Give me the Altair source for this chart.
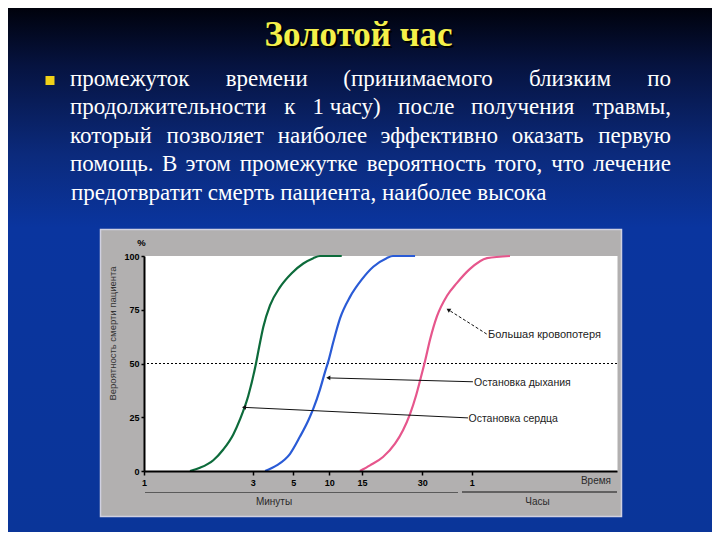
import altair as alt
import pandas as pd

# ---------------- data ----------------
series_names = ["Остановка сердца", "Остановка дыхания", "Большая кровопотеря"]
series_colors = ["#0d6b3b", "#2a5bd6", "#e6568c"]

cardiac_min = [1.846, 2.03, 2.275, 2.459, 2.643, 2.766, 2.919, 3.162, 3.325, 3.522, 3.852, 4.345, 4.921, 6.39, 7.78, 8.71, 11.9]
cardiac_pct = [0, 1.5, 5, 10, 17, 24, 35, 50, 58, 67, 77, 85.5, 92, 96.5, 99, 100, 100]

resp_min = [3.61, 4.18, 4.84, 5.93, 7.08, 7.78, 8.71, 9.40, 9.86, 10.61, 11.64, 13.17, 14.95, 17.81, 21.14, 22.7, 28.2]
resp_pct = [0, 2.6, 8, 16, 23.5, 29, 38, 46, 51, 60, 71, 81, 89, 95, 99, 100, 100]

blood_min = [14.69, 16.99, 20.22, 23.21, 25.2, 26.94, 28.43, 29.43, 31.64, 34.68, 38.93, 45.0, 51.07, 58.97, 66.32, 75.8]
blood_pct = [0, 2.6, 6.5, 12.7, 19, 26.5, 35, 42, 51, 61, 72, 81.5, 87.5, 94, 99, 100]

x_tick_values = [1, 3, 5, 10, 15, 30, 60]
y_tick_values = [0, 25, 50, 75, 100]
x_scale_domain = [1, 3, 5, 10, 15, 30, 60, 120]

# arrows: (to curve point) <- (from label)
arrow_from_min = [57.75, 60.5, 66.2]
arrow_from_pct = [24.7, 41.5, 63.7]
arrow_to_min = [2.84, 9.86, 45.8]
arrow_to_pct = [29.6, 43.3, 75.0]

title_text = "Золотой час"
justified_lines = [
    ["промежуток", "времени", "(принимаемого", "близким", "по"],
    ["продолжительности", "к", "1 часу)", "после", "получения", "травмы,"],
    ["который", "позволяет", "наиболее", "эффективно", "оказать", "первую"],
    ["помощь.", "В", "этом", "промежутке", "вероятность", "того,", "что", "лечение"],
]
last_line = "предотвратит смерть пациента, наиболее высока"
y_title = "Вероятность смерти пациента"

# ---------------- layout (page pixels) ----------------
TOTAL_W, TOTAL_H = 704, 524
OX, OY = 144, 256          # plot-area origin on the page
PW, PH = 473, 215          # plot-area size
x_scale_range = [0, 108.7, 149.3, 185.3, 218, 278.3, 327.7, 473]

TEXT_L, TEXT_R = 70, 671
BODY_FS = 23
line_baselines = [86, 114, 142.5, 171, 199.5]
arrow_angles = [2.8, 1.5, 32]

# approximate advance widths (em) of the serif face, used only to justify lines
char_w = {
    "а": .444, "б": .509, "в": .472, "г": .410, "д": .509, "е": .444, "ж": .691, "з": .395,
    "и": .535, "й": .535, "к": .486, "л": .503, "м": .624, "н": .535, "о": .5, "п": .535,
    "р": .5, "с": .444, "т": .437, "у": .5, "ф": .648, "х": .5, "ц": .535, "ч": .503,
    "ш": .770, "щ": .770, "ъ": .535, "ы": .687, "ь": .468, "э": .444, "ю": .747, "я": .486,
    "В": .667, " ": .25, ".": .25, ",": .25, "(": .333, ")": .333, "1": .5,
}


def est_width(word):
    return sum(char_w.get(c, 0.5) for c in word) * BODY_FS


def vx(x):
    return x - OX


def vy(y):
    return y - OY


one = pd.DataFrame({"k": [0]})
xs = alt.Scale(domain=x_scale_domain, range=x_scale_range, nice=False, zero=False)
ys = alt.Scale(domain=[0, 100], nice=False)

SANS = "Liberation Sans"
SERIF = "Liberation Serif"

# background gradient
bg = alt.Chart(one).mark_rect(
    fill=alt.LinearGradient(
        gradient="linear",
        stops=[
            alt.GradientStop(color="#00020c", offset=0),
            alt.GradientStop(color="#061340", offset=0.11),
            alt.GradientStop(color="#0b2a7c", offset=0.28),
            alt.GradientStop(color="#0a359f", offset=0.42),
            alt.GradientStop(color="#0a3599", offset=1),
        ],
        x1=0, x2=0, y1=0, y2=1,
    ),
    strokeWidth=0,
).encode(x=alt.value(vx(8)), x2=alt.value(vx(712)), y=alt.value(vy(8)), y2=alt.value(vy(532)))

panel = alt.Chart(one).mark_rect(fill="#b2b0b0", stroke="#d0d0e0", strokeWidth=1.5).encode(
    x=alt.value(vx(100.5)), x2=alt.value(vx(621.5)), y=alt.value(vy(229.5)), y2=alt.value(vy(516.5))
)
white = alt.Chart(one).mark_rect(fill="white", strokeWidth=0).encode(
    x=alt.value(vx(145)), x2=alt.value(vx(617.5)), y=alt.value(vy(256)), y2=alt.value(vy(471))
)
min_line = alt.Chart(one).mark_rule(color="#5a5a5a", strokeWidth=1).encode(
    x=alt.value(vx(145)), x2=alt.value(vx(458)), y=alt.value(vy(492.5))
)
hour_line = alt.Chart(one).mark_rule(color="#111111", strokeWidth=1.2).encode(
    x=alt.value(vx(462)), x2=alt.value(vx(617)), y=alt.value(vy(492)))

bullet = alt.Chart(one).mark_rect(fill="#f0d018").encode(
    x=alt.value(vx(45.5)), x2=alt.value(vx(54.5)), y=alt.value(vy(76)), y2=alt.value(vy(85))
)

# curves
frames = []
for name, mins, pcts in zip(series_names, [cardiac_min, resp_min, blood_min], [cardiac_pct, resp_pct, blood_pct]):
    frames.append(pd.DataFrame({"series": name, "minutes": mins, "pct": pcts}))
curve_df = pd.concat(frames, ignore_index=True)

axis_common = dict(
    domainColor="black", domainWidth=2, tickColor="black", tickWidth=1.5,
    labelFont=SANS, labelFontWeight="bold", labelFontSize=9, labelColor="black",
    grid=False, title=None, labelOverlap=False, zindex=2,
)
curves = alt.Chart(curve_df).mark_line(strokeWidth=2.2, interpolate="monotone").encode(
    x=alt.X("minutes:Q", scale=xs, axis=alt.Axis(
        values=x_tick_values, format="d", labelExpr="datum.value >= 60 ? '1' : datum.label",
        tickSize=4, labelPadding=3, labelFlush=False, **axis_common)),
    y=alt.Y("pct:Q", scale=ys, axis=alt.Axis(values=y_tick_values, tickSize=3, labelPadding=2, **axis_common)),
    color=alt.Color("series:N", scale=alt.Scale(domain=series_names, range=series_colors), legend=None),
)

half = alt.Chart(pd.DataFrame({"pct": [50]})).mark_rule(color="black", strokeDash=[2, 2], strokeWidth=1).encode(
    y=alt.Y("pct:Q", scale=ys, axis=None)
)

arrow_df = pd.DataFrame({
    "fx": arrow_from_min, "fy": arrow_from_pct, "tx": arrow_to_min, "ty": arrow_to_pct,
    "ang": arrow_angles, "dashed": [0, 0, 1],
})
arrows_solid = alt.Chart(arrow_df).transform_filter("datum.dashed == 0").mark_rule(color="#111", strokeWidth=1).encode(
    x=alt.X("fx:Q", scale=xs, axis=None), y=alt.Y("fy:Q", scale=ys, axis=None), x2="tx:Q", y2="ty:Q")
arrows_dash = alt.Chart(arrow_df).transform_filter("datum.dashed == 1").mark_rule(
    color="#111", strokeWidth=1, strokeDash=[3, 2]).encode(
    x=alt.X("fx:Q", scale=xs, axis=None), y=alt.Y("fy:Q", scale=ys, axis=None), x2="tx:Q", y2="ty:Q")
heads = alt.Chart(arrow_df).mark_point(shape="triangle-left", filled=True, color="#111", size=22, opacity=1).encode(
    x=alt.X("tx:Q", scale=xs, axis=None), y=alt.Y("ty:Q", scale=ys, axis=None),
    angle=alt.Angle("ang:Q", scale=None))


def px_text(rows, **kw):
    df = pd.DataFrame(rows, columns=["px", "py", "t", "fs"])
    df["px"] = df["px"] - OX
    df["py"] = df["py"] - OY
    return alt.Chart(df).mark_text(**kw).encode(
        x=alt.X("px:Q", scale=None, axis=None),
        y=alt.Y("py:Q", scale=None, axis=None),
        text="t:N",
        size=alt.Size("fs:Q", scale=None, legend=None),
    )


# justified body text: first words left-aligned at computed positions, last word pinned right
left_rows, right_rows = [], []
for words, base in zip(justified_lines, line_baselines):
    widths = [est_width(w) for w in words]
    gap = (TEXT_R - TEXT_L - sum(widths)) / (len(words) - 1)
    x = TEXT_L
    for w, wd in zip(words[:-1], widths[:-1]):
        left_rows.append((x, base, w, BODY_FS))
        x += wd + gap
    right_rows.append((TEXT_R, base, words[-1], BODY_FS))
left_rows.append((TEXT_L + 1, line_baselines[4], last_line, BODY_FS))

body_left = px_text(left_rows, font=SERIF, color="white", align="left", baseline="alphabetic")
body_right = px_text(right_rows, font=SERIF, color="white", align="right", baseline="alphabetic")

title_shadow = px_text([(360.5, 48, title_text, 35)], font=SERIF, fontWeight="bold", color="#000000",
                       align="center", baseline="alphabetic")
title = px_text([(358.5, 46, title_text, 35)], font=SERIF, fontWeight="bold", color="#f4f04a",
                align="center", baseline="alphabetic")

ann_left = px_text([
    (488, 335, "Большая кровопотеря", 11),
    (474, 383, "Остановка дыхания", 10.5),
    (468.5, 419, "Остановка сердца", 10.5),
], font=SANS, color="#222222", align="left", baseline="middle")
ann_center = px_text([
    (274, 502, "Минуты", 10),
    (537.5, 502, "Часы", 10),
], font=SANS, color="#2a2a2a", align="center", baseline="middle")
pct_sign = px_text([(141.5, 242.5, "%", 9.5)], font=SANS, fontWeight="bold", color="black",
                   align="center", baseline="middle")
time_lbl = px_text([(611, 481, "Время", 10)], font=SANS, color="#2a2a2a", align="right", baseline="middle")
ytitle = px_text([(113, 333.5, y_title, 9.5)], font=SANS, color="#333333", align="center",
                 baseline="middle", angle=270)

chart = alt.layer(
    bg, panel, white, min_line, hour_line, bullet,
    half, curves, arrows_solid, arrows_dash, heads,
    body_left, body_right, title_shadow, title, ann_left, ann_center, pct_sign, time_lbl, ytitle,
).resolve_scale(x="independent", y="independent").properties(
    width=PW, height=PH,
    autosize=alt.AutoSizeParams(type="none"),
    padding={"left": OX - 8, "top": OY - 8, "right": TOTAL_W - (OX - 8) - PW, "bottom": TOTAL_H - (OY - 8) - PH},
    background="#0a3599",
).configure_view(strokeWidth=0)

chart.save("out.html", embed_options={"renderer": "svg", "actions": False})
